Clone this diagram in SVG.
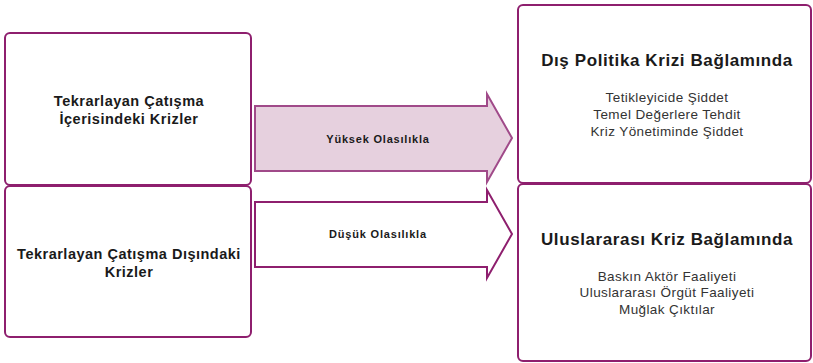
<svg xmlns="http://www.w3.org/2000/svg" width="813" height="363" viewBox="0 0 813 363">
<style>
.box{fill:#fff;stroke:#8E1F6E;stroke-width:2}
.t{font-family:"Liberation Sans",Arial,sans-serif;fill:#1a1a1a;text-anchor:middle}
.lb{font-size:14.5px;font-weight:bold;letter-spacing:0.5px}
.al{font-size:11px;font-weight:bold;letter-spacing:0.8px}
.ti{font-size:17px;font-weight:bold;letter-spacing:0.6px}
.it{font-size:13.5px;fill:#333;letter-spacing:0.4px}
</style>
<rect width="813" height="363" fill="#fff"/>
<g id="connectors">
<polygon id="arrow-high" points="255,106 487,106 487,94 512,138 487,182 487,171 255,171" fill="#E6D0DE" stroke="#A04A89" stroke-width="2"/>
<polygon id="arrow-low" points="255,202 487,202 487,190 512,234 487,278 487,267 255,267" fill="#fff" stroke="#8E1F6E" stroke-width="2"/>
<text class="t al" x="378" y="143">Yüksek Olasılıkla</text>
<text class="t al" x="378" y="238">Düşük Olasılıkla</text>
</g>
<g id="node-within">
<rect class="box" x="5" y="33" width="246" height="152" rx="5"/>
<text class="t lb" x="129" y="106">Tekrarlayan Çatışma</text>
<text class="t lb" x="129" y="124">İçerisindeki Krizler</text>
</g>
<g id="node-outside">
<rect class="box" x="5" y="186" width="246" height="151" rx="5"/>
<text class="t lb" x="129" y="259">Tekrarlayan Çatışma Dışındaki</text>
<text class="t lb" x="129" y="277">Krizler</text>
</g>
<g id="node-foreign">
<rect class="box" x="518" y="5" width="293" height="178" rx="5"/>
<text class="t ti" x="667" y="66">Dış Politika Krizi Bağlamında</text>
<text class="t it" x="667" y="102">Tetikleyicide Şiddet</text>
<text class="t it" x="667" y="119">Temel Değerlere Tehdit</text>
<text class="t it" x="667" y="136">Kriz Yönetiminde Şiddet</text>
</g>
<g id="node-international">
<rect class="box" x="518" y="184" width="293" height="177" rx="5"/>
<text class="t ti" x="667" y="245">Uluslararası Kriz Bağlamında</text>
<text class="t it" x="667" y="281">Baskın Aktör Faaliyeti</text>
<text class="t it" x="667" y="297">Uluslararası Örgüt Faaliyeti</text>
<text class="t it" x="667" y="314">Muğlak Çıktılar</text>
</g>
</svg>
